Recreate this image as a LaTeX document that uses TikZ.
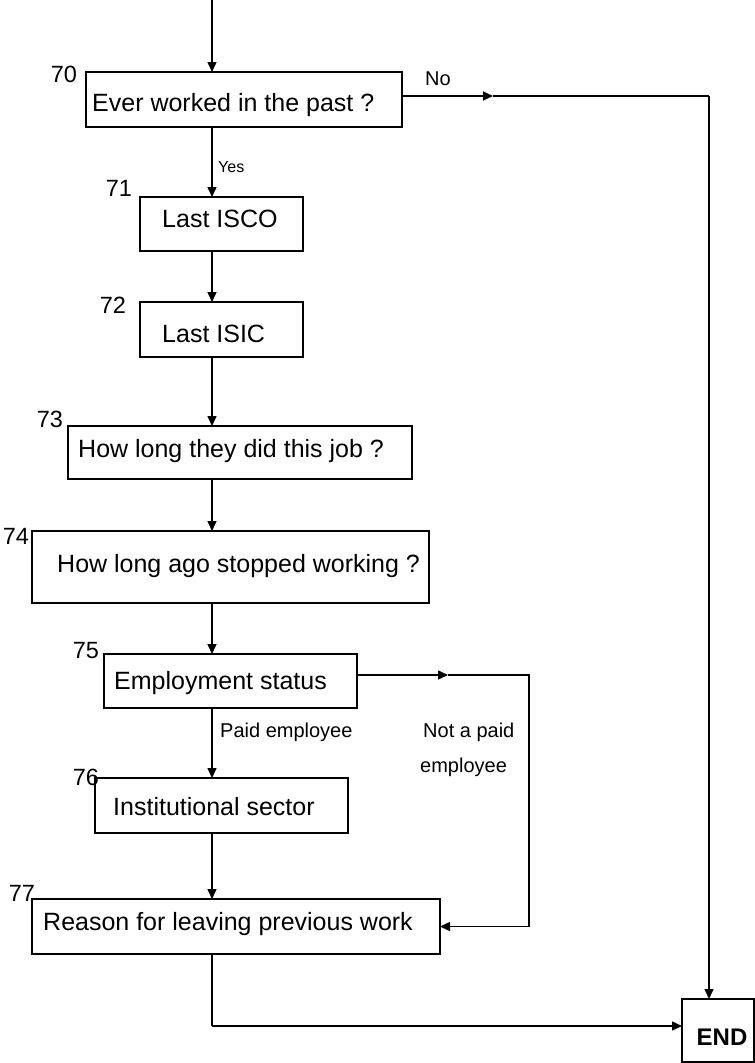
\documentclass[tikz,border=0pt]{standalone}
\usepackage{fontspec}
\setmainfont{Liberation Sans}
\usetikzlibrary{arrows.meta}
\begin{document}
\begin{tikzpicture}[x=1pt,y=-1pt,
  box/.style={draw,line width=1.6pt,rectangle,inner sep=0pt,outer sep=0pt},
  btxt/.style={anchor=base west,inner sep=0pt,font=\fontsize{25}{30}\selectfont},
  num/.style={inner sep=0pt,font=\fontsize{23.5}{28}\selectfont},
  small/.style={anchor=base west,inner sep=0pt,font=\fontsize{20}{24}\selectfont},
  tiny/.style={anchor=base west,inner sep=0pt,font=\fontsize{16}{19}\selectfont},
  conn/.style={line width=1.5pt},
  arr/.style={line width=1.5pt,-{Triangle[length=10pt,width=9pt]}}]
\useasboundingbox (0,0) rectangle (755,1063);

% boxes
\node[box,minimum width=316pt,minimum height=55pt] (b70) at (244,99.5) {};
\node[box,minimum width=163pt,minimum height=54pt] (b71) at (221.5,224) {};
\node[box,minimum width=163pt,minimum height=55pt] (b72) at (221.5,329.5) {};
\node[box,minimum width=344pt,minimum height=53pt] (b73) at (240,452.5) {};
\node[box,minimum width=397pt,minimum height=72pt] (b74) at (230.5,567) {};
\node[box,minimum width=253pt,minimum height=54pt] (b75) at (230.5,681) {};
\node[box,minimum width=253pt,minimum height=55pt] (b76) at (221.5,805.5) {};
\node[box,minimum width=408pt,minimum height=55pt] (b77) at (236,926.5) {};
\node[box,minimum width=72pt,minimum height=63pt] (END) at (718,1030.5) {};

% box texts
\node[btxt] (t70) at (92,111) {Ever worked in the past ?};
\node[btxt] (t71) at (162,227) {Last ISCO};
\node[btxt] (t72) at (162,342) {Last ISIC};
\node[btxt] (t73) at (78,457) {How long they did this job ?};
\node[btxt] (t74) at (57,572) {How long ago stopped working ?};
\node[btxt] (t75) at (114,689) {Employment status};
\node[btxt] (t76) at (113,815) {Institutional sector};
\node[btxt] (t77) at (43,930) {Reason for leaving previous work};
\node[anchor=base,inner sep=0pt,font=\fontsize{24}{28}\selectfont\bfseries] (tEND) at (722,1045) {END};

% question numbers
\node[num] (n70) at (64,74) {70};
\node[num] (n71) at (119,188) {71};
\node[num] (n72) at (113,305) {72};
\node[num] (n73) at (50,419) {73};
\node[num] (n74) at (16,536) {74};
\node[num] (n75) at (86,651) {75};
\node[num] (n76) at (86,777) {76};
\node[num] (n77) at (22,893) {77};

% branch labels
\node[small] (lno) at (425,85) {No};
\node[tiny] (lyes) at (218,172) {Yes};
\node[small] (lpaid) at (220,737) {Paid employee};
\node[small] (lnot1) at (423,737) {Not a paid};
\node[small] (lnot2) at (420,772) {employee};

% helper coordinates
\coordinate (top) at (212,0);
\coordinate (noM) at (493,96);
\coordinate (noC) at (709,96);
\coordinate (npM) at (448,675);
\coordinate (npC) at (529,675);
\coordinate (endC) at (212,1026);

% main flow
\draw[arr] (top) -- (top |- b70.north);
\draw[arr] (b70.south -| top) -- (b71.north -| top);
\draw[arr] (b71.south -| top) -- (b72.north -| top);
\draw[arr] (b72.south -| top) -- (b73.north -| top);
\draw[arr] (b73.south -| top) -- (b74.north -| top);
\draw[arr] (b74.south -| top) -- (b75.north -| top);
\draw[arr] (b75.south -| top) -- (b76.north -| top);
\draw[arr] (b76.south -| top) -- (b77.north -| top);
\draw[conn] (b77.south -| top) -- (endC);
\draw[arr] (endC) -- (END.west |- endC);

% No branch
\draw[arr] (b70.east |- noM) -- (noM);
\draw[conn] (noM) -- (noC);
\draw[arr] (noC) -- (END.north -| noC);

% Not a paid employee branch
\draw[arr] (b75.east |- npM) -- (npM);
\draw[conn] (npM) -- (npC) -- (npC |- b77.east);
\draw[arr] (npC |- b77.east) -- (b77.east);
\end{tikzpicture}
\end{document}
